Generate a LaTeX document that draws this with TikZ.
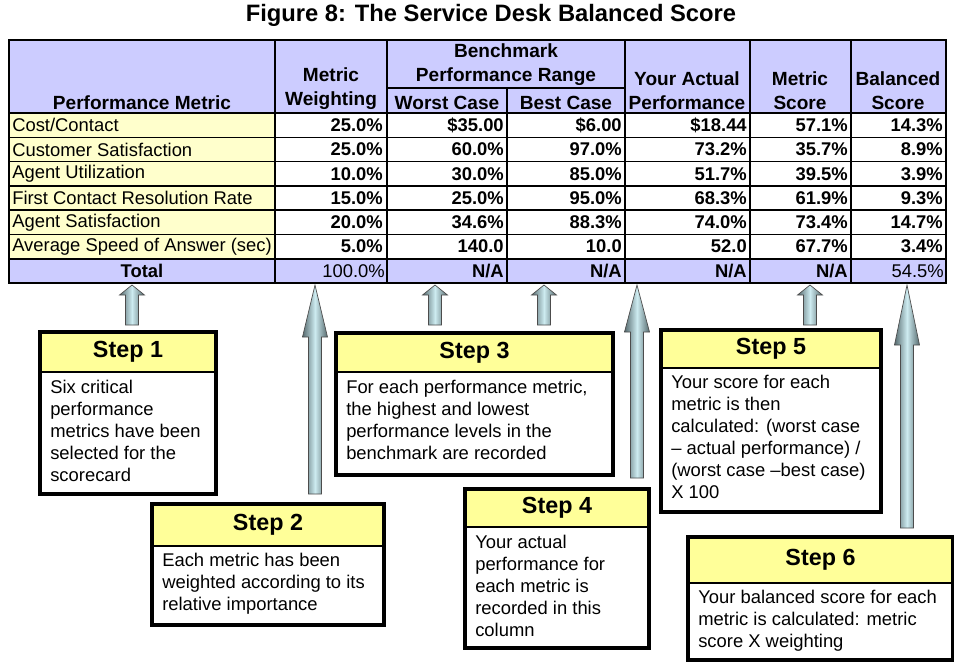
\documentclass[tikz,border=0pt]{standalone}
\usepackage{fontspec}
\setmainfont{Liberation Sans}
\begin{document}
\begin{tikzpicture}[x=0.75pt,y=-0.75pt,
  grid/.style={line width=1.1pt,draw=black},
  txt/.style={inner sep=0pt,font=\fontsize{13.8}{18}\selectfont},
  num/.style={txt,anchor=east,font=\fontsize{13.8}{18}\selectfont\bfseries},
  hdr/.style={txt,font=\fontsize{14.3}{18}\selectfont\bfseries,align=center,anchor=south},
  box/.style={line width=2.3pt,draw=black},
  steph/.style={inner sep=0pt,font=\fontsize{17.5}{20}\selectfont\bfseries},
  stepb/.style={inner sep=0pt,anchor=north west,align=left,font=\fontsize{13.8}{16.5}\selectfont},
  fat/.style={draw=black!70,line width=0.5pt,left color=arD,right color=arD,middle color=arL}]
\definecolor{lav}{HTML}{CCCCFF}
\definecolor{lyel}{HTML}{FFFFCC}
\definecolor{syel}{HTML}{FFFF99}
\definecolor{arD}{HTML}{566A6E}
\definecolor{arL}{HTML}{CDEBF0}
\useasboundingbox (0,0) rectangle (954,665);
\fill[white] (0,0) rectangle (954,665);
\node[inner sep=0pt,font=\fontsize{17.8}{20}\selectfont\bfseries] (title) at (491,15) {Figure 8: The Service Desk Balanced Score};
% fills
\fill[lav] (9,40) rectangle (946,113);
\fill[lav] (9,258.8) rectangle (946,283);
\fill[lyel] (9,113) rectangle (275,258.8);
% grid
\draw[grid] (9,40) rectangle (946,283);
\foreach \y in {113,137.3,161.6,185.9,210.2,234.5,258.8} \draw[grid] (9,\y) -- (946,\y);
\foreach \x in {275,387,625,750,851} \draw[grid] (\x,40) -- (\x,283);
\draw[grid] (387,88) -- (625,88);
\draw[grid] (507,88) -- (507,283);
% headers
\node[hdr] (h1) at (142,110) {Performance Metric};
\node[hdr] (h2) at (331,110) {Metric\\Weighting};
\node[hdr] (h3) at (506,86) {Benchmark\\Performance Range};
\node[hdr] (h4) at (447,110) {Worst Case};
\node[hdr] (h5) at (566,110) {Best Case};
\node[hdr] (h6) at (687,110) {Your Actual\\Performance};
\node[hdr] (h7) at (800,110) {Metric\\Score};
\node[hdr] (h8) at (898,110) {Balanced\\Score};
% rows
\foreach [count=\i] \a/\b/\c/\d/\e/\f/\g in {
 {Cost/Contact}/25.0\%/\$35.00/\$6.00/\$18.44/57.1\%/14.3\%,
 {Customer Satisfaction}/25.0\%/60.0\%/97.0\%/73.2\%/35.7\%/8.9\%,
 {Agent Utilization}/10.0\%/30.0\%/85.0\%/51.7\%/39.5\%/3.9\%,
 {First Contact Resolution Rate}/15.0\%/25.0\%/95.0\%/68.3\%/61.9\%/9.3\%,
 {Agent Satisfaction}/20.0\%/34.6\%/88.3\%/74.0\%/73.4\%/14.7\%,
 {Average Speed of Answer (sec)}/5.0\%/140.0/10.0/52.0/67.7\%/3.4\%}{
 \pgfmathsetmacro\yy{113+24.3*(\i-0.5)}
 \node[txt,anchor=west] (m\i) at (12,\yy) {\a};
 \node[num] (w\i) at (383,\yy) {\b};
 \node[num] (wc\i) at (504,\yy) {\c};
 \node[num] (bc\i) at (622,\yy) {\d};
 \node[num] (ac\i) at (747,\yy) {\e};
 \node[num] (ms\i) at (848,\yy) {\f};
 \node[num] (bs\i) at (943,\yy) {\g};
}
\node[txt,font=\fontsize{13.8}{18}\selectfont\bfseries] (tot) at (142,271) {Total};
\node[txt,anchor=east] (tw) at (385,271) {100.0\%};
\node[num] (twc) at (504,271) {N/A};
\node[num] (tbc) at (622,271) {N/A};
\node[num] (tac) at (747,271) {N/A};
\node[num] (tms) at (848,271) {N/A};
\node[txt,anchor=east] (tbs) at (944,271) {54.5\%};
% step boxes
\newcommand\stepbox[7]{% name, x1,y1,x2,y2,yh, title
  \fill[syel] (#2,#3) rectangle (#4,#6);
  \draw[line width=0.8pt] (#2,#6) -- (#4,#6);
  \draw[box] (#2,#3) rectangle (#4,#5);
  \coordinate (#1) at ({(#2+#4)/2},#3);
  \node[steph] (#1t) at ({(#2+#4)/2},{(#3+#6)/2}) {#7};
}
\stepbox{s1}{40}{332}{216}{494}{372}{Step 1}
\node[stepb] (s1b) at (50,380) {Six critical\\performance\\metrics have been\\selected for the\\scorecard};
\stepbox{s2}{152}{504}{384}{625}{546}{Step 2}
\node[stepb] (s2b) at (162,553) {Each metric has been\\weighted according to its\\relative importance};
\stepbox{s3}{336}{333}{613}{475}{372}{Step 3}
\node[stepb] (s3b) at (346,380) {For each performance metric,\\the highest and lowest\\performance levels in the\\benchmark are recorded};
\stepbox{s4}{465}{489}{649}{648}{527}{Step 4}
\node[stepb] (s4b) at (475,535) {Your actual\\performance for\\each metric is\\recorded in this\\column};
\stepbox{s5}{661}{330}{881}{512}{368}{Step 5}
\node[stepb] (s5b) at (671,375) {Your score for each\\metric is then\\calculated: (worst case\\-- actual performance) /\\(worst case --best case)\\X 100};
\stepbox{s6}{688}{537}{953}{660}{583}{Step 6}
\node[stepb] (s6b) at (698,590) {Your balanced score for each\\metric is calculated: metric\\score X weighting};
% arrows: x, bottom, head base, tip
\newcommand\fatarr[4]{%
  \path[fat] (#1-6.5,#2) -- (#1-6.5,#3) -- (#1-12.5,#3) -- (#1,#4) -- (#1+12.5,#3) -- (#1+6.5,#3) -- (#1+6.5,#2) -- cycle;}
\fatarr{132}{325}{295}{285}
\fatarr{435}{325}{295}{285}
\fatarr{544}{325}{295}{285}
\fatarr{810}{325}{295}{285}
\fatarr{315}{494}{337}{285}
\fatarr{637}{478}{332}{285}
\fatarr{907}{528}{345}{285}
\end{tikzpicture}
\end{document}
